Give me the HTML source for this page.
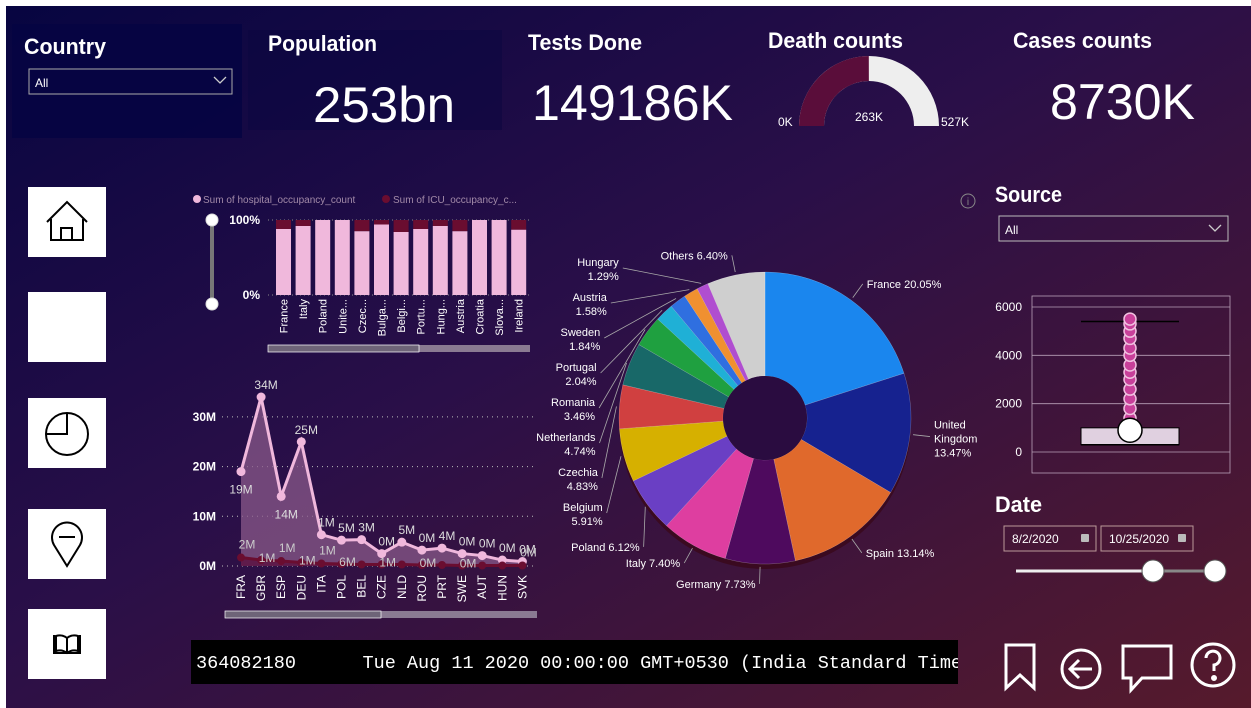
<!DOCTYPE html>
<html><head><meta charset="utf-8"><style>
html,body{margin:0;padding:0;width:1251px;height:708px;overflow:hidden;background:#fff}
svg{display:block}
text{font-family:"Liberation Sans",sans-serif}
.h{font-weight:bold;fill:#fff;font-size:22px}
.big{fill:#fff;font-size:50px}
.t{fill:#fff;font-size:12px}
.mono{font-family:"Liberation Mono",monospace}
</style></head><body>
<svg id="root" width="1251" height="708" xmlns="http://www.w3.org/2000/svg">
<defs>
<linearGradient id="bg" x1="0" y1="0" x2="1" y2="1">
<stop offset="0" stop-color="#070541"/><stop offset="0.45" stop-color="#2a0f48"/><stop offset="1" stop-color="#561a2c"/>
</linearGradient>
</defs>
<rect x="6" y="6" width="1245" height="702" fill="url(#bg)"/>
<g>
<rect x="12" y="24" width="230" height="114" fill="#060442" opacity="0.9"/>
<text class="h" x="24" y="54" textLength="82" lengthAdjust="spacingAndGlyphs">Country</text>
<rect x="29" y="69" width="203" height="25" fill="none" stroke="#aaa"/>
<text class="t" x="35" y="87">All</text>
<path d="M214 77 l6 6 l6 -6" stroke="#ccc" fill="none" stroke-width="1.3"/>
</g>
<g>
<rect x="248" y="30" width="254" height="100" fill="#0a0640" opacity="0.5"/>
<text class="h" x="268" y="51" textLength="109" lengthAdjust="spacingAndGlyphs">Population</text>
<text class="big" x="313" y="122" textLength="142" lengthAdjust="spacingAndGlyphs">253bn</text>
</g>
<g>
<text class="h" x="528" y="50" textLength="114" lengthAdjust="spacingAndGlyphs">Tests Done</text>
<text class="big" x="532" y="120" textLength="201" lengthAdjust="spacingAndGlyphs">149186K</text>
</g>
<g>
<text class="h" x="768" y="48" textLength="135" lengthAdjust="spacingAndGlyphs">Death counts</text>
<path id="gaugeBg" fill="#eee"/>
<path id="gaugeFill" fill="#5a0d3a"/>
<text class="t" x="778" y="126" font-size="13">0K</text>
<text class="t" x="941" y="126" font-size="13">527K</text>
<text class="t" x="869" y="121" font-size="17" text-anchor="middle">263K</text>
</g>
<g>
<text class="h" x="1013" y="48" textLength="139" lengthAdjust="spacingAndGlyphs">Cases counts</text>
<text class="big" x="1050" y="119" textLength="145" lengthAdjust="spacingAndGlyphs">8730K</text>
</g>
<g fill="#fff">
<rect x="28" y="187" width="78" height="70"/>
<rect x="28" y="292" width="78" height="70"/>
<rect x="28" y="398" width="78" height="70"/>
<rect x="28" y="509" width="78" height="70"/>
<rect x="28" y="609" width="78" height="70"/>
<g stroke="#000" stroke-width="2" fill="none">
<path d="M47 222 L67 202 L87 222 M51 219 V240 H83 V219 M61 240 V228 H72 V240"/>
<circle cx="67" cy="434" r="21"/><path d="M67 413 V434 H46"/>
<path d="M67 566 L54 545 A15 15 0 1 1 80 545 Z M59 537 H75"/>
<path d="M54 635 V653 H80 V635 M56 636 Q62 634 67 638 Q72 634 78 636 V651 Q72 649 67 653 Q62 649 56 651 Z M67 638 V653"/>
</g>
</g>
<g id="barChart">
<circle cx="197" cy="199" r="4" fill="#f0b8dc"/>
<text x="203" y="203" font-size="10" fill="#a28aa8">Sum of hospital_occupancy_count</text>
<circle cx="386" cy="199" r="4" fill="#6a0d30"/>
<text x="393" y="203" font-size="10" fill="#a28aa8">Sum of ICU_occupancy_c...</text>
<line x1="212" y1="220" x2="212" y2="304" stroke="#777" stroke-width="4"/>
<circle cx="212" cy="220" r="6" fill="#fff" stroke="#ddd"/><circle cx="212" cy="304" r="6" fill="#fff" stroke="#ddd"/>
<text class="t" x="260" y="224" text-anchor="end" font-weight="bold">100%</text>
<text class="t" x="260" y="299" text-anchor="end" font-weight="bold">0%</text>
<rect x="268" y="345" width="262" height="7" fill="#8a7a92"/>
<rect x="268" y="345" width="151" height="7" fill="#6e6478" stroke="#fff" stroke-width="0.7"/>
</g>
<g id="lineChart">
<rect x="225" y="611" width="312" height="7" fill="#8a7a92"/>
<rect x="225" y="611" width="156" height="7" fill="#6e6478" stroke="#fff" stroke-width="0.7"/>
</g>
<g id="donut"></g>
<circle cx="968" cy="201" r="7" fill="none" stroke="#888"/>
<text x="968" y="205" font-size="10" fill="#888" text-anchor="middle">i</text>
<g>
<text class="h" x="995" y="202" textLength="67" lengthAdjust="spacingAndGlyphs">Source</text>
<rect x="999" y="216" width="229" height="25" fill="none" stroke="#bbb"/>
<text class="t" x="1005" y="234">All</text>
<path d="M1209 225 l6 6 l6 -6" stroke="#ccc" fill="none" stroke-width="1.3"/>
</g>
<g id="boxPlot"></g>
<g>
<text class="h" x="995" y="512" textLength="47" lengthAdjust="spacingAndGlyphs">Date</text>
<rect x="1004" y="526" width="92" height="25" fill="none" stroke="#b99"/>
<text class="t" x="1012" y="543">8/2/2020</text>
<rect x="1101" y="526" width="92" height="25" fill="none" stroke="#b99"/>
<text class="t" x="1109" y="543">10/25/2020</text>
<rect x="1081" y="534" width="8" height="8" fill="#bbb" rx="1"/><rect x="1178" y="534" width="8" height="8" fill="#bbb" rx="1"/>
<line x1="1016" y1="571" x2="1153" y2="571" stroke="#eee" stroke-width="3"/>
<line x1="1153" y1="571" x2="1215" y2="571" stroke="#888" stroke-width="3"/>
<circle cx="1153" cy="571" r="11" fill="#fff" stroke="#555"/>
<circle cx="1215" cy="571" r="11" fill="#fff" stroke="#555"/>
</g>
<g>
<rect x="191" y="640" width="767" height="44" fill="#000"/>
<svg x="191" y="640" width="767" height="44">
<text class="mono" x="5" y="28" font-size="18.5" fill="#fff" xml:space="preserve">364082180      Tue Aug 11 2020 00:00:00 GMT+0530 (India Standard Time)</text>
</svg>
</g>
<g stroke="#fff" stroke-width="3" fill="none">
<path d="M1006 645 H1034 V688 L1020 675 L1006 688 Z"/>
<g><circle cx="1081" cy="669" r="19"/><path d="M1092 669 H1071 M1079 660 L1070 669 L1079 678"/></g>
<path d="M1123 646 H1171 V678 H1142 L1131 690 V678 H1123 Z"/>
<g><circle cx="1213" cy="665" r="21"/><path d="M1206 658 A7 7 0 1 1 1214 665 V671"/><circle cx="1214" cy="678" r="1.5" fill="#fff"/></g>
</g>
</svg>
<script>
const NS='http://www.w3.org/2000/svg';
function mk(tag,attrs,parent){const e=document.createElementNS(NS,tag);for(const k in attrs)e.setAttribute(k,attrs[k]);parent.appendChild(e);return e;}
const gaugeMin=0, gaugeMax=527, gaugeValue=263;
const barCountries=['France','Italy','Poland','Unite...','Czec...','Bulga...','Belgi...','Portu...','Hung...','Austria','Croatia','Slova...','Ireland'];
const barHospitalPct=[88,92,100,100,85,94,84,88,92,85,100,100,87];
const lineCats=['FRA','GBR','ESP','DEU','ITA','POL','BEL','CZE','NLD','ROU','PRT','SWE','AUT','HUN','SVK'];
const lineHospital=[19,34,14,25,6.3,5.2,5.3,2.5,4.8,3.2,3.6,2.5,2.1,1.2,0.9];
const lineICU=[1.7,1.2,1.0,0.7,0.5,0.4,0.3,0.3,0.3,0.2,0.2,0.1,0.1,0.1,0.1];
const lineHospLabels=['19M','34M','14M','25M','1M','5M','3M','0M','5M','0M','4M','0M','0M','0M','0M'];
const lineICULabels=['2M','1M','1M','1M','1M','6M','','1M','','0M','','0M','','','0M'];
const lineTicks=[0,10,20,30];
const pieNames=['France','United Kingdom','Spain','Germany','Italy','Poland','Belgium','Czechia','Netherlands','Romania','Portugal','Sweden','Austria','Hungary','Others'];
const pieValues=[20.05,13.47,13.14,7.73,7.40,6.12,5.91,4.83,4.74,3.46,2.04,1.84,1.58,1.29,6.40];
const pieColors=['#1a86ee','#16228f','#e0692c','#4e0a5e','#de3ea0','#6a3fc4','#d6b000','#d04040','#186868','#1fa040','#1fb0d6','#2f6fe0','#f09030','#b04ed0','#cfcfcf'];
const boxTicks=[0,2000,4000,6000];
const boxStats={min:300,q1:300,median:600,q3:1000,max:5400,mean:900};
const boxOutliers=[1400,1800,2200,2600,3000,3300,3600,4000,4300,4700,5000,5300,5500];

(function(){const cx=869,cy=126,R=70,r=45;
function arc(a0,a1){const p=(a,rr)=>[cx-rr*Math.cos(a),cy-rr*Math.sin(a)];
const [x0,y0]=p(a0,R),[x1,y1]=p(a1,R),[x2,y2]=p(a1,r),[x3,y3]=p(a0,r);
return `M${x0} ${y0} A${R} ${R} 0 0 1 ${x1} ${y1} L${x2} ${y2} A${r} ${r} 0 0 0 ${x3} ${y3}Z`;}
const f=(gaugeValue-gaugeMin)/(gaugeMax-gaugeMin)*Math.PI;
document.getElementById('gaugeBg').setAttribute('d',arc(0,Math.PI));
document.getElementById('gaugeFill').setAttribute('d',arc(0,f));})();

(function(){const g=document.getElementById('barChart');const x0=276,step=19.6,bw=15,y0=295,y100=220;
const y=v=>y0-(v/100)*(y0-y100);
[y100,y0].forEach(yy=>mk('line',{x1:268,x2:532,y1:yy,y2:yy,stroke:'#888','stroke-dasharray':'1 3'},g));
barCountries.forEach((c,i)=>{const x=x0+i*step;
const r1=mk('rect',{x:x,y:y100,width:bw,height:y(barHospitalPct[i])-y100,fill:'#6a0d30'},g);


const r2=mk('rect',{x:x,y:y(barHospitalPct[i]),width:bw,height:y0-y(barHospitalPct[i]),fill:'#f0b8dc'},g);


const t=mk('text',{x:0,y:0,fill:'#fff','font-size':'11',transform:`translate(${x+bw/2+4},${y0+4}) rotate(-90)`,'text-anchor':'end'},g);t.textContent=c;});})();

(function(){const g=document.getElementById('lineChart');const x0=241,step=20.1,y0=566,ppm=4.97;
const X=i=>x0+i*step,Y=v=>y0-v*ppm;
lineTicks.forEach(v=>{mk('line',{x1:222,x2:537,y1:Y(v),y2:Y(v),stroke:'#bbb','stroke-dasharray':'1 4'},g);
const t=mk('text',{x:216,y:Y(v)+4,fill:'#fff','font-size':'12','font-weight':'bold','text-anchor':'end'},g);t.textContent=v+'M';});
let d='M'+X(0)+' '+y0;lineHospital.forEach((v,i)=>d+=' L'+X(i)+' '+Y(v));d+=' L'+X(lineHospital.length-1)+' '+y0+'Z';
mk('path',{d:d,fill:'#8a5a8a',opacity:'0.75'},g);
let dI='M'+X(0)+' '+y0;lineICU.forEach((v,i)=>dI+=' L'+X(i)+' '+Y(v));dI+=' L'+X(lineICU.length-1)+' '+y0+'Z';
mk('path',{d:dI,fill:'#5a1040',opacity:'0.8'},g);
mk('polyline',{points:lineHospital.map((v,i)=>X(i)+','+Y(v)).join(' '),fill:'none',stroke:'#f0b8dc','stroke-width':'3'},g);
mk('polyline',{points:lineICU.map((v,i)=>X(i)+','+Y(v)).join(' '),fill:'none',stroke:'#6a0d30','stroke-width':'3'},g);
lineHospital.forEach((v,i)=>{const c=mk('circle',{cx:X(i),cy:Y(v),r:4.5,fill:'#f0b8dc'},g);


const t=mk('text',{x:X(i)+(i==0?0:5),y:i==0||i==2?Y(v)+22:Y(v)-8,fill:'#ddd','font-size':'12','text-anchor':'middle'},g);t.textContent=lineHospLabels[i];});
lineICU.forEach((v,i)=>{const c=mk('circle',{cx:X(i),cy:Y(v),r:4,fill:'#6a0d30'},g);


const t=mk('text',{x:X(i)+6,y:i%2?Y(v)+2:Y(v)-9,fill:'#ccc','font-size':'12','text-anchor':'middle'},g);t.textContent=lineICULabels[i];});
lineCats.forEach((c,i)=>{const t=mk('text',{x:0,y:0,fill:'#fff','font-size':'12',transform:`translate(${X(i)+4},${y0+9}) rotate(-90)`,'text-anchor':'end'},g);t.textContent=c;});})();

(function(){const g=document.getElementById('donut');const cx=765,cy=418,R=146,r=42;const tot=pieValues.reduce((a,b)=>a+b,0);
let a=-Math.PI/2;
const P=(ang,rr)=>[cx+rr*Math.cos(ang),cy+rr*Math.sin(ang)];
mk('ellipse',{cx:cx,cy:cy+5,rx:R,ry:R,fill:'#3a0a20'},g);
pieValues.forEach((v,i)=>{const b=a+v/tot*2*Math.PI;const [x0,y0]=P(a,R),[x1,y1]=P(b,R),[x2,y2]=P(b,r),[x3,y3]=P(a,r);const lg=b-a>Math.PI?1:0;
const p=mk('path',{d:`M${x0} ${y0}A${R} ${R} 0 ${lg} 1 ${x1} ${y1}L${x2} ${y2}A${r} ${r} 0 ${lg} 0 ${x3} ${y3}Z`,fill:pieColors[i],stroke:'#ffffff55','stroke-width':'0.5'},g);


const m=(a+b)/2;const [ex,ey]=P(m,R+3);
const left=Math.cos(m)<0 && i>=6 && i<=13;
if(left){
  const ly=cy+95-(i-6)*35;const dy=ly-cy;
  const xe=cx-(125+45*Math.sqrt(Math.max(0,1-(dy/170)*(dy/170))));
  mk('line',{x1:ex,y1:ey,x2:xe+4,y2:ly,stroke:'#aaa','stroke-width':'0.8'},g);
  const t=mk('text',{x:xe,y:ly-2,fill:'#fff','font-size':'11','text-anchor':'end'},g);
  [pieNames[i],v.toFixed(2)+'%'].forEach((s,k)=>{const ts=mk('tspan',{x:xe,dy:k?14:0},t);ts.textContent=s;});
}else{
  const [lx,ly0]=P(m,R+20);const right=Math.cos(m)>0;
  const ly=i==5?ly0+30:ly0;const lxx=i==5?lx+12:lx;
  mk('line',{x1:ex,y1:ey,x2:lxx,y2:ly,stroke:'#aaa','stroke-width':'0.8'},g);
  const anchor=right?'start':'end';const tx=lxx+(right?4:-4);
  if(i==1){const t=mk('text',{x:tx,y:ly-8,fill:'#fff','font-size':'11','text-anchor':anchor},g);
   ['United','Kingdom',v.toFixed(2)+'%'].forEach((s,k)=>{const ts=mk('tspan',{x:tx,dy:k?14:0},t);ts.textContent=s;});}
  else{const t=mk('text',{x:tx,y:ly+4,fill:'#fff','font-size':'11','text-anchor':anchor},g);t.textContent=pieNames[i]+' '+v.toFixed(2)+'%';}
}
a=b;});
mk('circle',{cx:cx,cy:cy,r:r,fill:'#2a0c40'},g);})();

(function(){const g=document.getElementById('boxPlot');const y0=452,ppu=(452-307)/6000,cx=1130,hw=49;const Y=v=>y0-v*ppu;
mk('rect',{x:1032,y:296,width:198,height:177,fill:'none',stroke:'#b8a0b8','stroke-width':'0.8'},g);
boxTicks.forEach(v=>{mk('line',{x1:1032,x2:1230,y1:Y(v),y2:Y(v),stroke:'#b8a0b8','stroke-width':'0.8'},g);
const t=mk('text',{x:1022,y:Y(v)+4,fill:'#fff','font-size':'12','text-anchor':'end'},g);t.textContent=v;});
mk('rect',{x:cx-hw,y:Y(boxStats.q3),width:2*hw,height:Y(boxStats.q1)-Y(boxStats.q3),fill:'#e0d0e0',stroke:'#000'},g);
mk('line',{x1:cx,x2:cx,y1:Y(boxStats.max),y2:Y(boxStats.q3),stroke:'#000'},g);
mk('line',{x1:cx-hw,x2:cx+hw,y1:Y(boxStats.max),y2:Y(boxStats.max),stroke:'#000','stroke-width':'1.5'},g);
mk('line',{x1:cx-hw,x2:cx+hw,y1:Y(boxStats.min),y2:Y(boxStats.min),stroke:'#000','stroke-width':'1.5'},g);
boxOutliers.forEach((v,i)=>{const c=mk('circle',{cx:cx,cy:Y(v),r:6,fill:'#c8409a',stroke:'#f0c0e0','stroke-width':'1.5'},g);

});
const mc=mk('circle',{cx:cx,cy:Y(boxStats.mean),r:12,fill:'#fff',stroke:'#000','stroke-width':'1.5'},g);

})();
</script>
</body></html>
